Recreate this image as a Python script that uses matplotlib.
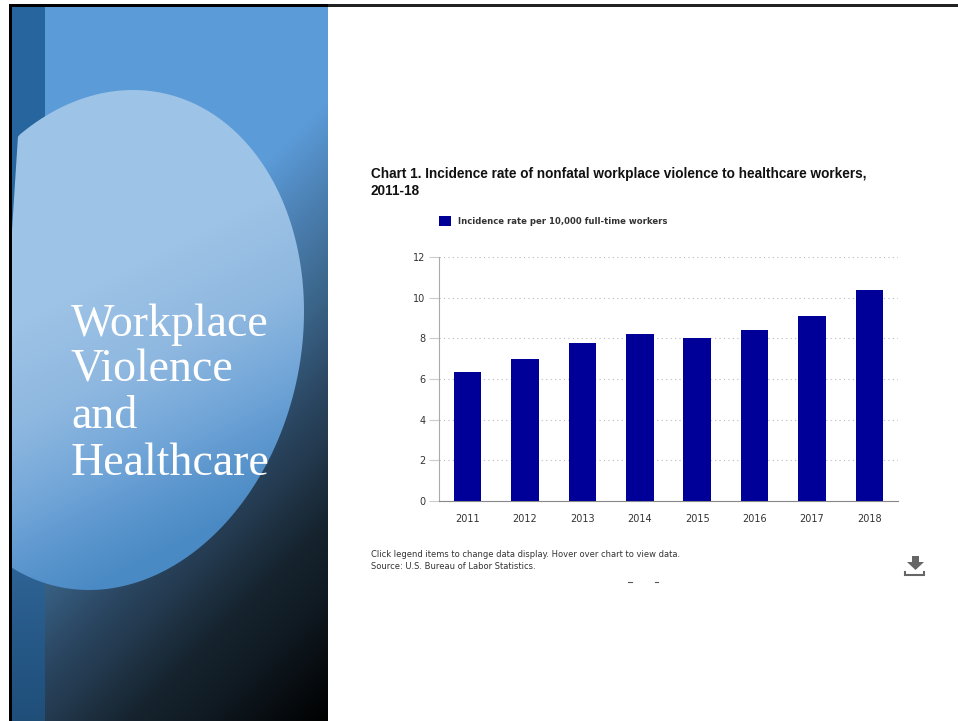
import numpy as np
import matplotlib
matplotlib.use('Agg')
import matplotlib.pyplot as plt
from matplotlib.colors import to_rgb
from matplotlib.patches import Polygon, Rectangle

years = ['2011', '2012', '2013', '2014', '2015', '2016', '2017', '2018']
rates = [6.35, 7.0, 7.75, 8.2, 8.0, 8.4, 9.1, 10.4]
y_ticks = [0, 2, 4, 6, 8, 10, 12]

title_lines = ['Chart 1. Incidence rate of nonfatal workplace violence to healthcare workers,', '2011-18']
series_name = 'Incidence rate per 10,000 full-time workers'
footer_lines = ['Click legend items to change data display. Hover over chart to view data.',
                'Source: U.S. Bureau of Labor Statistics.']
slide_lines = ['Workplace', 'Violence', 'and', 'Healthcare']

W, H = 958, 721
fig = plt.figure(figsize=(W / 100, H / 100), dpi=100, facecolor='white')


def ramp(t, stops, colors):
    rgb = np.array([to_rgb(c) for c in colors])
    return np.dstack([np.interp(t, stops, rgb[:, i]) for i in range(3)])


# slide panel, everything here is in pixel coordinates
bg = fig.add_axes([0, 0, 1, 1])
bg.axis('off')

xx, yy = np.meshgrid(np.arange(12, 328) + 0.5, np.arange(7, H) + 0.5)
t = 0.7 * xx + 0.7 * yy
panel = ramp(t, [0, 300, 368, 434, 497, 536, 593, 644, 734],
             ['#5B9BD8', '#5B9BD8', '#4A7DAE', '#3A6488', '#2B4763', '#243A4F', '#16242F', '#101A22', '#000000'])
bg.imshow(panel, extent=(12, 328, H, 7), aspect='auto', zorder=1)

# darker strip down the left side
strip = ramp(yy[:, :33], [0, 300, 560, 721], ['#26659E', '#26659E', '#2E6496', '#1F4E79'])
bg.imshow(strip, extent=(12, 45, H, 7), aspect='auto', zorder=2)

# big tilted ellipse, cut off on the left
a = np.linspace(0, 2 * np.pi, 400)
rx, ry, c = 193.0, 250.0, -5500.0
ex = 111 + rx * np.cos(a)
ey = 340 + c / rx * np.cos(a) + np.sqrt(ry ** 2 - (c / rx) ** 2) * np.sin(a)
ex = np.maximum(ex, np.interp(ey, [136, 230], [18, 12]))
shape = Polygon(np.column_stack([ex, ey]), closed=True, transform=bg.transData, facecolor='none', edgecolor='none')
bg.add_patch(shape)
t2 = 0.45 * xx + 0.9 * yy
fill = ramp(t2, [0, 300, 390, 468, 513, 571],
            ['#9DC3E6', '#9DC3E6', '#8FB8E0', '#72A6D8', '#5E98CF', '#4A8AC4'])
im = bg.imshow(fill, extent=(12, 328, H, 7), aspect='auto', zorder=3)
im.set_clip_path(shape)

# black frame
bg.add_patch(Rectangle((9, 4), 319, 3, facecolor='black', edgecolor='none', zorder=5))
bg.add_patch(Rectangle((328, 4), W - 328, 2.5, facecolor='#222222', edgecolor='none', zorder=5))
bg.add_patch(Rectangle((9, 4), 3, H - 4, facecolor='black', edgecolor='none', zorder=5))
bg.set_xlim(0, W)
bg.set_ylim(H, 0)

for line, base in zip(slide_lines, [336, 382, 428, 475]):
    bg.text(71, base, line, color='white', family='Liberation Serif', fontsize=33, va='baseline', zorder=6)

# chart heading and notes
for line, base in zip(title_lines, [178, 195]):
    bg.text(371, base, line, family='Liberation Sans', fontweight='bold', fontsize=9.82, color='#111111', va='baseline', zorder=6)
for line, base in zip(footer_lines, [557, 569]):
    bg.text(371, base, line, family='DejaVu Sans', fontsize=6.02, color='#333333', va='baseline', zorder=6)

# download icon
bg.add_patch(Polygon([(912, 556), (919, 556), (919, 562), (924, 562), (915.5, 570), (907, 562), (912, 562)],
                     facecolor='#666666', edgecolor='none', zorder=6))
bg.plot([905.5, 905.5, 924.5, 924.5], [571.5, 575, 575, 571.5], color='#666666', lw=1.5, solid_joinstyle='miter', zorder=6)

# bits of clipped text under the notes
bg.plot([628, 632], [582, 582], color='#555555', lw=0.8, zorder=6)
bg.plot([655, 658], [582, 582], color='#555555', lw=0.8, zorder=6)

# bar chart
ax = fig.add_axes([439 / W, 1 - 501 / H, (898 - 439) / W, (501 - 257) / H])
ax.patch.set_alpha(0)
bars = ax.bar(range(len(years)), rates, width=0.48, color='#000099', zorder=3, label=series_name)
ax.set_xlim(-0.5, 7.5)
ax.set_ylim(0, 12)
ax.set_xticks(range(len(years)))
ax.set_xticklabels(years)
ax.set_yticks(y_ticks)
ax.yaxis.grid(True, linestyle=(0, (1, 3)), color='#BBBBBB', linewidth=0.8)
ax.set_axisbelow(True)
ax.tick_params(axis='x', length=0, pad=9, labelsize=7.0, labelcolor='#333333')
ax.tick_params(axis='y', length=7.2, width=0.8, color='#CCCCCC', pad=2.6, labelsize=7.0, labelcolor='#333333')
for lab in ax.get_xticklabels() + ax.get_yticklabels():
    lab.set_family('DejaVu Sans')
ax.spines['top'].set_visible(False)
ax.spines['right'].set_visible(False)
ax.spines['left'].set_color('#AAAAAA')
ax.spines['bottom'].set_color('#888888')

leg = fig.legend(handles=[bars], labels=[series_name], loc='center left', bbox_to_anchor=(439 / W, 1 - 221 / H),
                 frameon=False, handlelength=1.4, handleheight=1.4, handletextpad=0.83, borderpad=0, borderaxespad=0,
                 prop={'family': 'DejaVu Sans', 'weight': 'bold', 'size': 6.1})
leg.get_texts()[0].set_color('#333333')

fig.savefig('out.png', dpi=100)
